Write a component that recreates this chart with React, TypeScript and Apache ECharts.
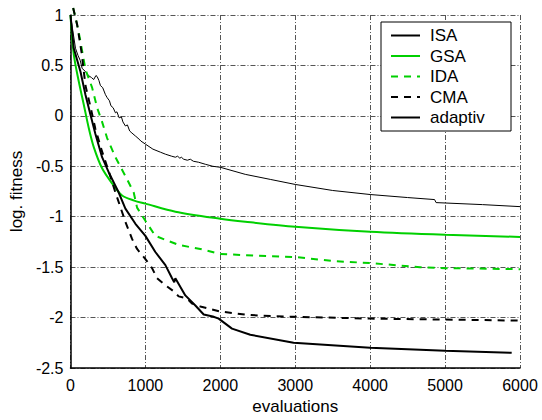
import React, { useEffect, useRef } from "react";
import * as echarts from "echarts";

const xTicks = [0, 1000, 2000, 3000, 4000, 5000, 6000];
const yTicks = [-2.5, -2, -1.5, -1, -0.5, 0, 0.5, 1];

const isaData: [number, number][] = [
  [0, 1], [30, 0.85], [67, 0.67], [100, 0.6], [130, 0.55], [156, 0.47], [200, 0.44],
  [240, 0.4], [280, 0.38], [310, 0.36], [340, 0.4], [356, 0.39], [380, 0.35], [400, 0.3],
  [430, 0.28], [467, 0.21], [490, 0.18], [520, 0.15], [540, 0.1], [570, 0.08], [600, 0.03],
  [620, 0.04], [650, -0.02], [680, -0.01], [700, -0.06], [733, -0.1], [760, -0.09],
  [790, -0.15], [820, -0.17], [867, -0.2], [900, -0.22], [940, -0.25], [1000, -0.28],
  [1100, -0.33], [1200, -0.36], [1267, -0.38], [1350, -0.4], [1400, -0.41], [1430, -0.4],
  [1460, -0.42], [1480, -0.41], [1511, -0.43], [1560, -0.44], [1600, -0.43], [1640, -0.45],
  [1711, -0.46], [1800, -0.48], [1900, -0.5], [2000, -0.51], [2333, -0.58], [2667, -0.63],
  [3000, -0.68], [3500, -0.74], [4000, -0.78], [4500, -0.81], [4860, -0.83], [4880, -0.86],
  [5500, -0.88], [6000, -0.9],
];

const gsaData: [number, number][] = [
  [0, 1], [44, 0.61], [111, 0.34], [178, 0.11], [244, -0.12], [311, -0.31], [422, -0.52],
  [556, -0.67], [689, -0.79], [850, -0.84], [1000, -0.87], [1400, -0.95], [2000, -1.02],
  [2333, -1.05], [3000, -1.1], [4000, -1.15], [5000, -1.18], [6000, -1.2],
];

const idaData: [number, number][] = [
  [36, 1.07], [90, 0.9], [130, 0.75], [200, 0.46], [289, 0.28], [356, 0.08], [422, -0.06],
  [489, -0.22], [600, -0.41], [756, -0.63], [844, -0.76], [889, -0.91], [1000, -1.04],
  [1133, -1.19], [1444, -1.28], [1733, -1.32], [2000, -1.37], [2622, -1.39], [3000, -1.4],
  [3511, -1.44], [4000, -1.46], [4667, -1.5], [5000, -1.51], [6000, -1.52],
];

const cmaData: [number, number][] = [
  [36, 1.07], [90, 0.9], [150, 0.62], [200, 0.3], [270, 0.08], [333, -0.13], [420, -0.35],
  [511, -0.55], [600, -0.76], [733, -1.05], [822, -1.22], [889, -1.32], [1000, -1.42],
  [1089, -1.51], [1156, -1.61], [1267, -1.68], [1378, -1.74], [1444, -1.79], [1556, -1.81],
  [1622, -1.86], [1733, -1.89], [2000, -1.94], [2333, -1.97], [2533, -1.98], [2844, -1.99],
  [4000, -2.01], [5000, -2.02], [6000, -2.03],
];

const adaptivData: [number, number][] = [
  [0, 1], [44, 0.67], [133, 0.44], [200, 0.21], [267, 0.01], [333, -0.18], [422, -0.41],
  [511, -0.56], [644, -0.76], [733, -0.92], [867, -1.07], [1000, -1.19], [1133, -1.35],
  [1267, -1.48], [1356, -1.61], [1385, -1.65], [1400, -1.61], [1533, -1.78], [1667, -1.88],
  [1778, -1.97], [1900, -1.99], [1978, -2.01], [2156, -2.11], [2400, -2.17], [2978, -2.25],
  [4000, -2.3], [5000, -2.33], [5889, -2.35],
];

const seriesNames = ["ISA", "GSA", "IDA", "CMA", "adaptiv"];

const FONT = "'Liberation Sans', Arial, Helvetica, sans-serif";
const GREEN = "#00d000";

export default function App() {
  const ref = useRef<HTMLDivElement>(null);
  useEffect(() => {
    if (!ref.current) return;
    const chart = echarts.init(ref.current, undefined, { renderer: "svg" });
    const gridLine = { show: true, lineStyle: { color: "#555", width: 1, type: [5, 2, 1, 2] } };
    chart.setOption({
      animation: false,
      backgroundColor: "#fff",
      textStyle: { fontFamily: FONT },
      grid: { left: 70, right: 22, top: 15, bottom: 50, containLabel: false },
      xAxis: {
        type: "value",
        min: xTicks[0],
        max: xTicks[xTicks.length - 1],
        interval: 1000,
        name: "evaluations",
        nameLocation: "middle",
        nameGap: 30,
        nameTextStyle: { color: "#000", fontSize: 17, fontFamily: FONT },
        axisLine: { show: true, onZero: false, lineStyle: { color: "#000", width: 1.5 } },
        axisTick: { show: false },
        axisLabel: { color: "#000", fontSize: 16, margin: 9, fontFamily: FONT, formatter: (v: number) => String(v) },
        splitLine: gridLine,
      },
      yAxis: {
        type: "value",
        min: yTicks[0],
        max: yTicks[yTicks.length - 1],
        interval: 0.5,
        name: "log. fitness",
        nameLocation: "middle",
        nameGap: 40,
        nameTextStyle: { color: "#000", fontSize: 17, fontFamily: FONT },
        axisLine: { show: true, onZero: false, lineStyle: { color: "#000", width: 1.5 } },
        axisTick: { show: false },
        axisLabel: { color: "#000", fontSize: 16, margin: 7, fontFamily: FONT, formatter: (v: number) => String(v) },
        splitLine: gridLine,
      },
      legend: {
        orient: "vertical",
        left: 390,
        top: 27,
        itemWidth: 29,
        itemHeight: 14,
        itemGap: 3.5,
        padding: 0,
        z: 10,
        itemStyle: { opacity: 0, borderWidth: 0 },
        textStyle: { color: "#000", fontSize: 17, fontFamily: FONT, padding: [0, 0, 0, 5] },
        data: seriesNames,
      },
      graphic: [
        {
          type: "rect",
          z: 5,
          shape: { x: 381, y: 22, width: 130, height: 109 },
          style: { fill: "#fff", stroke: "#000", lineWidth: 1 },
        },
      ],
      series: [
        {
          name: seriesNames[0], type: "line", data: isaData, symbol: "none",
          lineStyle: { color: "#000", width: 1 }, itemStyle: { color: "#000" }, z: 2,
        },
        {
          name: seriesNames[1], type: "line", data: gsaData, symbol: "none", smooth: 0.3,
          lineStyle: { color: GREEN, width: 2 }, itemStyle: { color: GREEN }, z: 2,
        },
        {
          name: seriesNames[2], type: "line", data: idaData, symbol: "none", clip: false,
          lineStyle: { color: GREEN, width: 2, type: [7, 6] }, itemStyle: { color: GREEN }, z: 2,
        },
        {
          name: seriesNames[3], type: "line", data: cmaData, symbol: "none", clip: false,
          lineStyle: { color: "#000", width: 2, type: [7, 6] }, itemStyle: { color: "#000" }, z: 3,
        },
        {
          name: seriesNames[4], type: "line", data: adaptivData, symbol: "none",
          lineStyle: { color: "#000", width: 2 }, itemStyle: { color: "#000" }, z: 3,
        },
      ],
    });
    return () => chart.dispose();
  }, []);
  return (
    <div
      ref={ref}
      style={{ position: "absolute", left: 0, top: 0, width: 542, height: 420 }}
    />
  );
}
